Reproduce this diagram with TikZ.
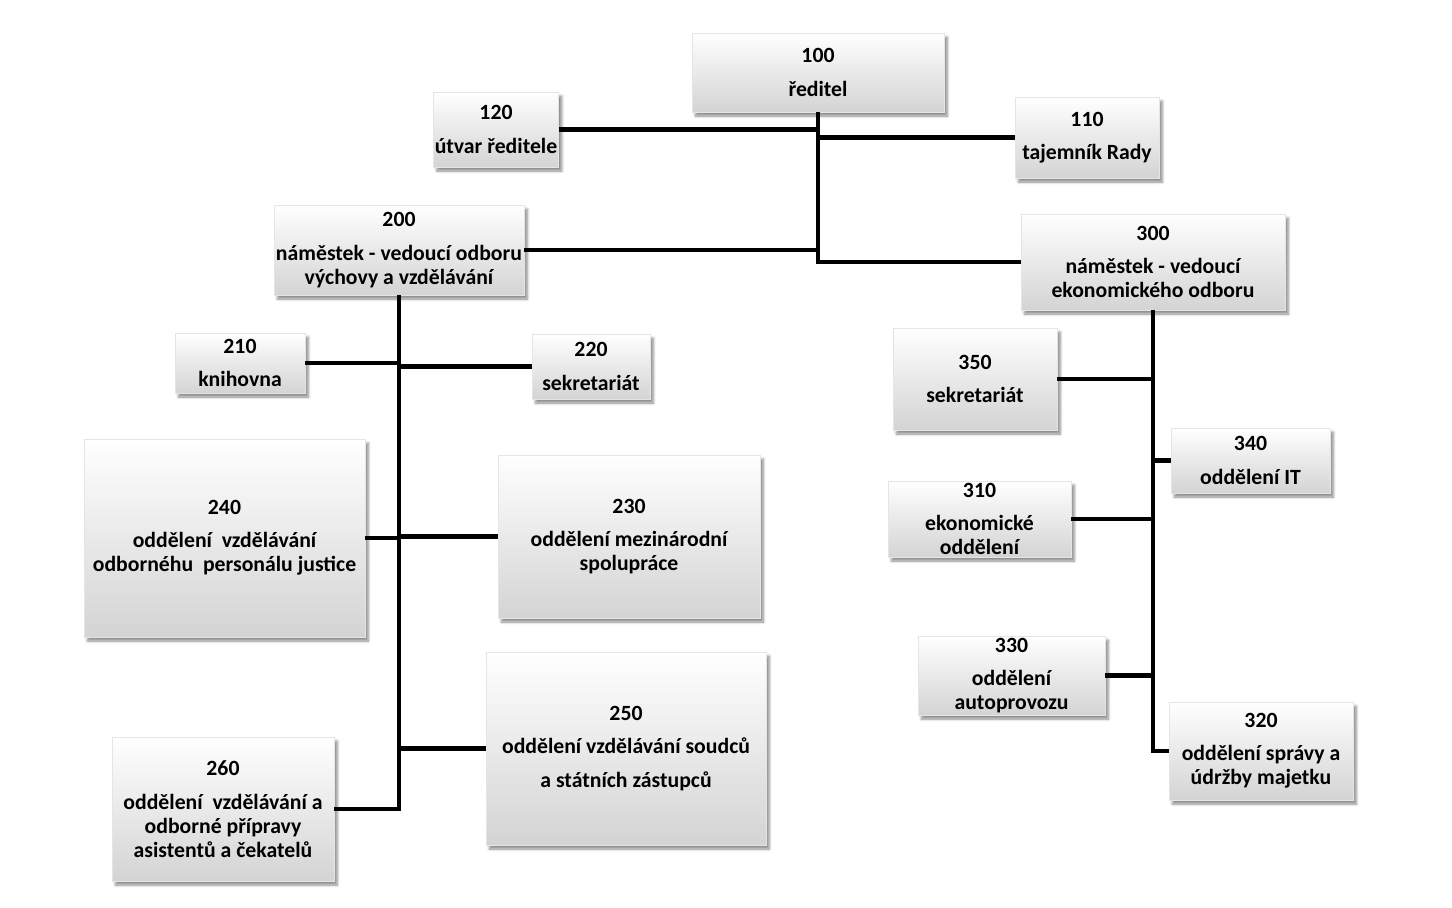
\documentclass[tikz,border=0pt]{standalone}
\usepackage{fontspec}
\setmainfont{Carlito}
\usetikzlibrary{shadows.blur}
\tikzset{
  box/.style={rectangle, draw=black!10, top color=white, bottom color=black!17,
    blur shadow={shadow xshift=2.5pt, shadow yshift=-3pt, shadow blur steps=6, shadow opacity=45},
    align=center, inner sep=1pt, font=\fontsize{16.3}{18}\selectfont\bfseries},
  conn/.style={line width=3.4pt, black}
}
\begin{document}
\begin{tikzpicture}[x=0.75pt,y=-0.75pt]
\useasboundingbox (0,0) rectangle (1452,907);
\node[box, minimum width=189pt, minimum height=59.25pt] (n100) at (818,72.5) {100\\[7pt]ředitel};
\node[box, minimum width=93pt, minimum height=56.25pt] (n120) at (496,129.5) {120\\[7pt]útvar ředitele};
\node[box, minimum width=108pt, minimum height=60.75pt] (n110) at (1087,137.5) {110\\[7pt]tajemník Rady};
\node[box, minimum width=187.5pt, minimum height=67.5pt] (n200) at (399,250) {200\\[7pt]náměstek - vedoucí odboru\\výchovy a vzdělávání};
\node[box, minimum width=198pt, minimum height=72pt] (n300) at (1153,262) {300\\[7pt]náměstek - vedoucí\\ekonomického odboru};
\node[box, minimum width=97.5pt, minimum height=45pt] (n210) at (240,363) {210\\[7pt]knihovna};
\node[box, minimum width=88.5pt, minimum height=48.75pt] (n220) at (591,366.5) {220\\[7pt]sekretariát};
\node[box, minimum width=210.75pt, minimum height=148.5pt] (n240) at (224.5,538) {240\\[7pt]oddělení\ \ vzdělávání\\odbornéhu\ \ personálu justice};
\node[box, minimum width=196.5pt, minimum height=122.25pt] (n230) at (629,536.5) {230\\[7pt]oddělení mezinárodní\\spolupráce};
\node[box, minimum width=210pt, minimum height=144.75pt] (n250) at (626,748.5) {250\\[7pt]oddělení vzdělávání soudců\\[7pt]a státních zástupců};
\node[box, minimum width=166.5pt, minimum height=108pt] (n260) at (223,809) {260\\[7pt]oddělení\ \ vzdělávání a\\odborné přípravy\\asistentů a čekatelů};
\node[box, minimum width=123pt, minimum height=76.5pt] (n350) at (975,379) {350\\[7pt]sekretariát};
\node[box, minimum width=119.25pt, minimum height=48.75pt] (n340) at (1250.5,460.5) {340\\[7pt]oddělení IT};
\node[box, minimum width=137.25pt, minimum height=57pt] (n310) at (979.5,519) {310\\[7pt]ekonomické\\oddělení};
\node[box, minimum width=140.25pt, minimum height=59.25pt] (n330) at (1011.5,675.5) {330\\[7pt]oddělení\\autoprovozu};
\node[box, minimum width=138pt, minimum height=73.5pt] (n320) at (1261,751) {320\\[7pt]oddělení správy a\\údržby majetku};
% connectors
\draw[conn] (n100.south) |- (n300.west);
\draw[conn] (n120.east) -- (n120.east -| n100.south);
\draw[conn] (n110.west) -- (n110.west -| n100.south);
\draw[conn] (n200.east) -- (n200.east -| n100.south);
\draw[conn] (n200.south) |- (n260.east);
\draw[conn] (n210.east) -- (n210.east -| n200.south);
\draw[conn] (n220.west) -- (n220.west -| n200.south);
\draw[conn] (n240.east) -- (n240.east -| n200.south);
\draw[conn] (n230.west) -- (n230.west -| n200.south);
\draw[conn] (n250.west) -- (n250.west -| n200.south);
\draw[conn] (n300.south) |- (n320.west);
\draw[conn] (n350.east) -- (n350.east -| n300.south);
\draw[conn] (n340.west) -- (n340.west -| n300.south);
\draw[conn] (n310.east) -- (n310.east -| n300.south);
\draw[conn] (n330.east) -- (n330.east -| n300.south);
\end{tikzpicture}
\end{document}
